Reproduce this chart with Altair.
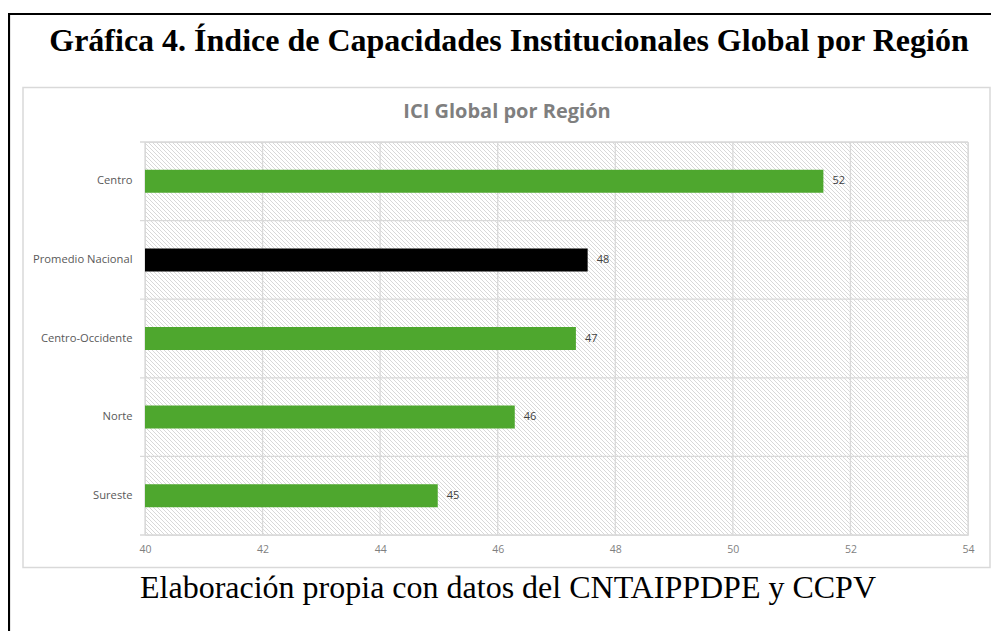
import altair as alt
import pandas as pd
import numpy as np

# ---------------- data ----------------
categories = ["Centro", "Promedio Nacional", "Centro-Occidente", "Norte", "Sureste"]
values = [51.54, 47.53, 47.33, 46.29, 44.98]
bar_colors = ["#4EA72E", "#000000", "#4EA72E", "#4EA72E", "#4EA72E"]
x_ticks = [40, 42, 44, 46, 48, 50, 52, 54]

main_title = "Gráfica 4. Índice de Capacidades Institucionales Global por Región"
chart_title = "ICI Global por Región"
caption = "Elaboración propia con datos del CNTAIPPDPE y CCPV"

# ---------------- layout ----------------
W, H = 823, 393
XMIN, XMAX = 40, 54
GRID = "#d9d9d9"

df = pd.DataFrame({"region": categories, "ici": values, "color": bar_colors})

xscale = alt.Scale(domain=[XMIN, XMAX], nice=False, zero=False)
yscale = alt.Scale(domain=categories, paddingInner=0, paddingOuter=0)

xaxis = alt.Axis(title=None, values=x_ticks, domain=False, ticks=False, grid=False,
                 labelPadding=9, labelColor="#7f7f7f", labelFontSize=10.5,
                 labelFont="Open Sans", format="d", labelFlush=False)
yaxis = alt.Axis(title=None, domain=False, ticks=False, grid=False,
                 labelPadding=13, labelColor="#595959", labelFontSize=11.2,
                 labelFont="Open Sans")

one = alt.Data(values=[{}])

# hatch background (decorative diagonal lines)
upp = (XMAX - XMIN) / W
d = H * upp
step = 4 * upp
starts = np.arange(XMIN - d, XMAX + step, step)
hatch_df = pd.DataFrame({"h0": starts, "h1": starts + d})
hatch = alt.Chart(hatch_df).mark_rule(color="#d4d4d4", strokeWidth=0.9, clip=True).encode(
    x=alt.X("h0:Q", scale=xscale, axis=xaxis),
    x2="h1:Q",
    y=alt.value(0),
    y2=alt.value(H),
)

vgrid = alt.Chart(pd.DataFrame({"t": x_ticks})).mark_rule(color=GRID, strokeWidth=1.3).encode(
    x=alt.X("t:Q", scale=xscale, axis=xaxis),
    y=alt.value(0),
    y2=alt.value(H),
)

hgrid = alt.Chart(df).mark_rule(color=GRID, strokeWidth=1.3).encode(
    y=alt.Y("region:N", sort=categories, scale=yscale, axis=yaxis, bandPosition=0),
    x=alt.value(-5),
    x2=alt.value(W),
)
hgrid_bottom = alt.Chart(one).mark_rule(color=GRID, strokeWidth=1.3).encode(
    y=alt.value(H), x=alt.value(-5), x2=alt.value(W)
)

bars = alt.Chart(df).mark_bar(height=23).encode(
    y=alt.Y("region:N", sort=categories, scale=yscale, axis=yaxis),
    x=alt.X("ici:Q", scale=xscale, axis=xaxis),
    x2=alt.datum(XMIN),
    color=alt.Color("color:N", scale=None),
)

labels = alt.Chart(df).mark_text(align="left", baseline="middle", dx=9, fontSize=11,
                                 font="Open Sans", color="#404040").encode(
    y=alt.Y("region:N", sort=categories, scale=yscale, axis=yaxis),
    x=alt.X("ici:Q", scale=xscale, axis=xaxis),
    text=alt.Text("ici:Q", format=".0f"),
)

# frames and texts
outer_left = alt.Chart(one).mark_rule(color="black", strokeWidth=2.2).encode(
    x=alt.value(-136), y=alt.value(-129), y2=alt.value(H + 200)
)
outer_top = alt.Chart(one).mark_rule(color="black", strokeWidth=2.2).encode(
    y=alt.value(-128), x=alt.value(-137), x2=alt.value(W + 200)
)
inner_box = alt.Chart(one).mark_rect(fillOpacity=0, stroke=GRID, strokeWidth=1.5).encode(
    x=alt.value(-122), x2=alt.value(845), y=alt.value(-54.5), y2=alt.value(425.5)
)
title_txt = alt.Chart(one).mark_text(font="Liberation Serif", fontSize=32, fontWeight="bold",
                                     align="center", baseline="alphabetic", color="black").encode(
    x=alt.value(364), y=alt.value(-91), text=alt.value(main_title)
)
chart_title_txt = alt.Chart(one).mark_text(font="Open Sans", fontSize=20, fontWeight="bold",
                                           align="center", baseline="alphabetic",
                                           color="#7f7f7f").encode(
    x=alt.value(362), y=alt.value(-24), text=alt.value(chart_title)
)
caption_txt = alt.Chart(one).mark_text(font="Liberation Serif", fontSize=32,
                                       align="center", baseline="alphabetic",
                                       color="black").encode(
    x=alt.value(363), y=alt.value(456), text=alt.value(caption)
)

chart = alt.layer(
    inner_box, hatch, vgrid, hgrid, hgrid_bottom, bars, labels,
    outer_left, outer_top, title_txt, chart_title_txt, caption_txt,
).properties(
    width=W, height=H,
    autosize=alt.AutoSizeParams(type="none"),
    padding={"left": 137, "top": 134, "right": 23, "bottom": 96},
).configure_view(stroke=None).configure(background="white")

chart.save("out.html", embed_options={"renderer": "svg", "actions": False})
